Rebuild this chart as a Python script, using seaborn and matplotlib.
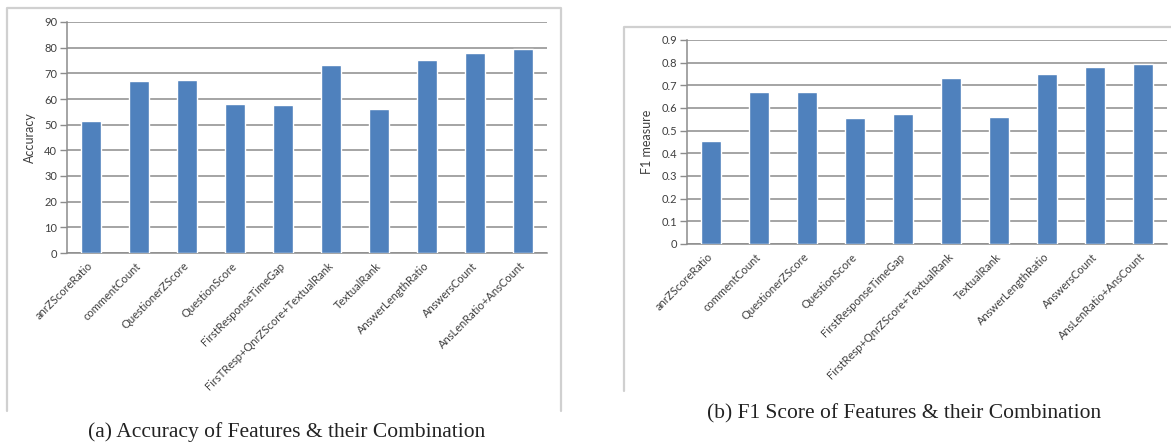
import matplotlib
matplotlib.use("Agg")
import matplotlib.pyplot as plt
from matplotlib.lines import Line2D
import seaborn as sns
import pandas as pd

# Feature names as printed under each chart
acc_features = ["anrZScoreRatio", "commentCount", "QuestionerZScore", "QuestionScore",
                "FirstResponseTimeGap", "FirsTResp+QnrZScore+TextualRank", "TextualRank",
                "AnswerLengthRatio", "AnswersCount", "AnsLenRatio+AnsCount"]
f1_features = ["anrZScoreRatio", "commentCount", "QuestionerZScore", "QuestionScore",
               "FirstResponseTimeGap", "FirstResp+QnrZScore+TextualRank", "TextualRank",
               "AnswerLengthRatio", "AnswersCount", "AnsLenRatio+AnsCount"]

accuracy = [51.3, 67.1, 67.3, 57.9, 57.7, 73.2, 56.0, 75.0, 78.1, 79.4]
f1_measure = [0.454, 0.671, 0.671, 0.556, 0.575, 0.731, 0.562, 0.750, 0.782, 0.793]

acc_ticks = [0, 10, 20, 30, 40, 50, 60, 70, 80, 90]
f1_ticks = [0, 0.1, 0.2, 0.3, 0.4, 0.5, 0.6, 0.7, 0.8, 0.9]
f1_tick_labels = ["0", "0.1", "0.2", "0.3", "0.4", "0.5", "0.6", "0.7", "0.8", "0.9"]

sns.set_theme(style="white")
plt.rcParams["font.family"] = ["Lato", "DejaVu Sans"]

W, H = 1171, 447
fig = plt.figure(figsize=(W / 100, H / 100), dpi=100)
fig.patch.set_facecolor("white")

BAR = "#4F81BD"
GRID = "#8c8c8c"
TXT = "#3f3f3f"
FRAME = "#d0d0d0"


def px_axes(x0, x1, ytop, ybot):
    return fig.add_axes([x0 / W, (H - ybot) / H, (x1 - x0) / W, (ybot - ytop) / H])


def frame(x0, x1, ytop, ybot, right=True):
    pts_x = [x0, x0, x1] + ([x1] if right else [])
    pts_y = [ybot, ytop, ytop] + ([ybot] if right else [])
    fig.add_artist(Line2D([p / W for p in pts_x], [(H - p) / H for p in pts_y],
                          color=FRAME, lw=1.6, transform=fig.transFigure))


def bar_panel(ax, names, values, ticks, tick_labels, ylabel):
    df = pd.DataFrame({"feature": names, "value": values})
    sns.barplot(data=df, x="feature", y="value", color=BAR, saturation=1,
                width=0.4, ax=ax, zorder=3)
    ax.set_ylim(ticks[0], ticks[-1])
    ax.set_xlim(-0.5, len(names) - 0.5)
    ax.set_yticks(ticks)
    ax.set_yticklabels(tick_labels)
    ax.yaxis.grid(True, color=GRID, lw=1.1)
    ax.set_axisbelow(True)
    for s in ("top", "right"):
        ax.spines[s].set_visible(False)
    for s in ("left", "bottom"):
        ax.spines[s].set_color(GRID)
        ax.spines[s].set_linewidth(1.1)
    ax.tick_params(axis="y", length=5, width=1.0, color=GRID, pad=2,
                   labelsize=8, labelcolor=TXT, left=True)
    ax.tick_params(axis="x", length=0, pad=8, labelsize=8, labelcolor=TXT)
    ax.set_xticks(range(len(names)))
    ax.set_xticklabels(names, rotation=45, ha="right", va="center",
                       rotation_mode="anchor")
    ax.set_xlabel("")
    ax.set_ylabel(ylabel, fontsize=9, color=TXT, labelpad=6)
    ax.set_facecolor("white")


# (a) accuracy panel
frame(7, 561, 8, 411)
ax1 = px_axes(67, 547, 22, 253)
bar_panel(ax1, acc_features, accuracy, acc_ticks, [str(t) for t in acc_ticks], "Accuracy")

# (b) F1 panel
frame(624, 1190, 27, 391, right=False)
ax2 = px_axes(687, 1167, 40, 244)
bar_panel(ax2, f1_features, f1_measure, f1_ticks, f1_tick_labels, "F1 measure")

serif = ["Liberation Serif", "DejaVu Serif"]
fig.text(287 / W, (H - 432) / H, "(a) Accuracy of Features & their Combination",
         family=serif, fontsize=15.5, color="#222222", ha="center", va="center")
fig.text(904 / W, (H - 414) / H, "(b) F1 Score of Features & their Combination",
         family=serif, fontsize=15.5, color="#222222", ha="center", va="center")

fig.savefig("out.png", dpi=100, facecolor="white")
